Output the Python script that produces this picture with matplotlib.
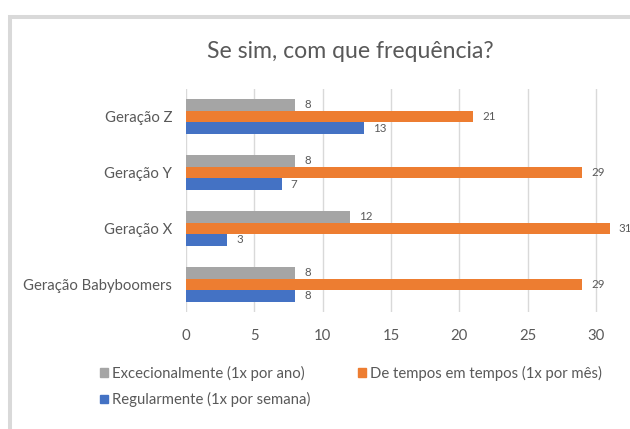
import matplotlib
matplotlib.use("Agg")
import matplotlib.pyplot as plt
import numpy as np
from matplotlib.lines import Line2D

plt.rcParams['font.family'] = ['Lato', 'DejaVu Sans']

categories = ['Geração Babyboomers', 'Geração X', 'Geração Y', 'Geração Z']
excecionalmente = [8, 12, 8, 8]
de_tempos = [29, 31, 29, 21]
regularmente = [8, 3, 7, 13]
series_names = ['Excecionalmente (1x por ano)',
                'De tempos em tempos (1x por mês)',
                'Regularmente (1x por semana)']
xticks = [0, 5, 10, 15, 20, 25, 30]
title = 'Se sim, com que frequência?'

GRAY = '#A5A5A5'
ORANGE = '#ED7D31'
BLUE = '#4472C4'
TXT = '#595959'

W, H = 630, 429
fig = plt.figure(figsize=(W / 100, H / 100), dpi=100)

# axes geometry (pixels)
x0, x30 = 186.0, 596.0
ppu = (x30 - x0) / 30.0
xmax = 35
right = x0 + xmax * ppu
top, bottom = 88.5, 312.3
ax = fig.add_axes([x0 / W, 1 - bottom / H, (right - x0) / W, (bottom - top) / H])

y = np.arange(len(categories))
h = 0.207
b1 = ax.barh(y + h, excecionalmente, height=h, color=GRAY, zorder=3)
b2 = ax.barh(y, de_tempos, height=h, color=ORANGE, zorder=3)
b3 = ax.barh(y - h, regularmente, height=h, color=BLUE, zorder=3)
for c in (b1, b2, b3):
    ax.bar_label(c, padding=6.5, fontsize=8.3, color=TXT)

ax.set_xlim(0, xmax)
ax.set_ylim(-0.5, len(categories) - 0.5)
ax.set_xticks(xticks)
ax.set_xticklabels([str(t) for t in xticks])
ax.set_yticks(y)
ax.set_yticklabels(categories)
ax.tick_params(axis='x', length=0, pad=12, labelsize=10.7, labelcolor=TXT)
ax.tick_params(axis='y', length=0, pad=10, labelsize=10.7, labelcolor=TXT)
ax.grid(axis='x', color='#D9D9D9', linewidth=1.0, zorder=0)
for s in ax.spines.values():
    s.set_visible(False)
ax.set_facecolor('none')

# title
fig.text(350.5 / W, 1 - 58.3 / H, title, ha='center', va='baseline',
         fontsize=16.6, color=TXT)

# legend
handles = [plt.Rectangle((0, 0), 1, 1, color=GRAY),
           plt.Rectangle((0, 0), 1, 1, color=BLUE),
           plt.Rectangle((0, 0), 1, 1, color=ORANGE)]
labels = [series_names[0], series_names[2], series_names[1]]
leg = fig.legend(handles, labels, ncol=2, loc='upper left',
                 bbox_to_anchor=(100 / W, 1 - 366 / H), frameon=False,
                 fontsize=10.7, handlelength=0.55, handleheight=0.55,
                 handletextpad=0.25, columnspacing=3.2, labelspacing=0.75,
                 borderpad=0, borderaxespad=0)
for t in leg.get_texts():
    t.set_color(TXT)

# chart border (light gray frame)
fig.add_artist(Line2D([10.3 / W, 10.3 / W, 1.01], [-0.01, 1 - 17 / H, 1 - 17 / H],
                      transform=fig.transFigure, color='#D9D9D9', linewidth=2.9,
                      solid_joinstyle='miter'))

fig.savefig('out.png', dpi=100)
